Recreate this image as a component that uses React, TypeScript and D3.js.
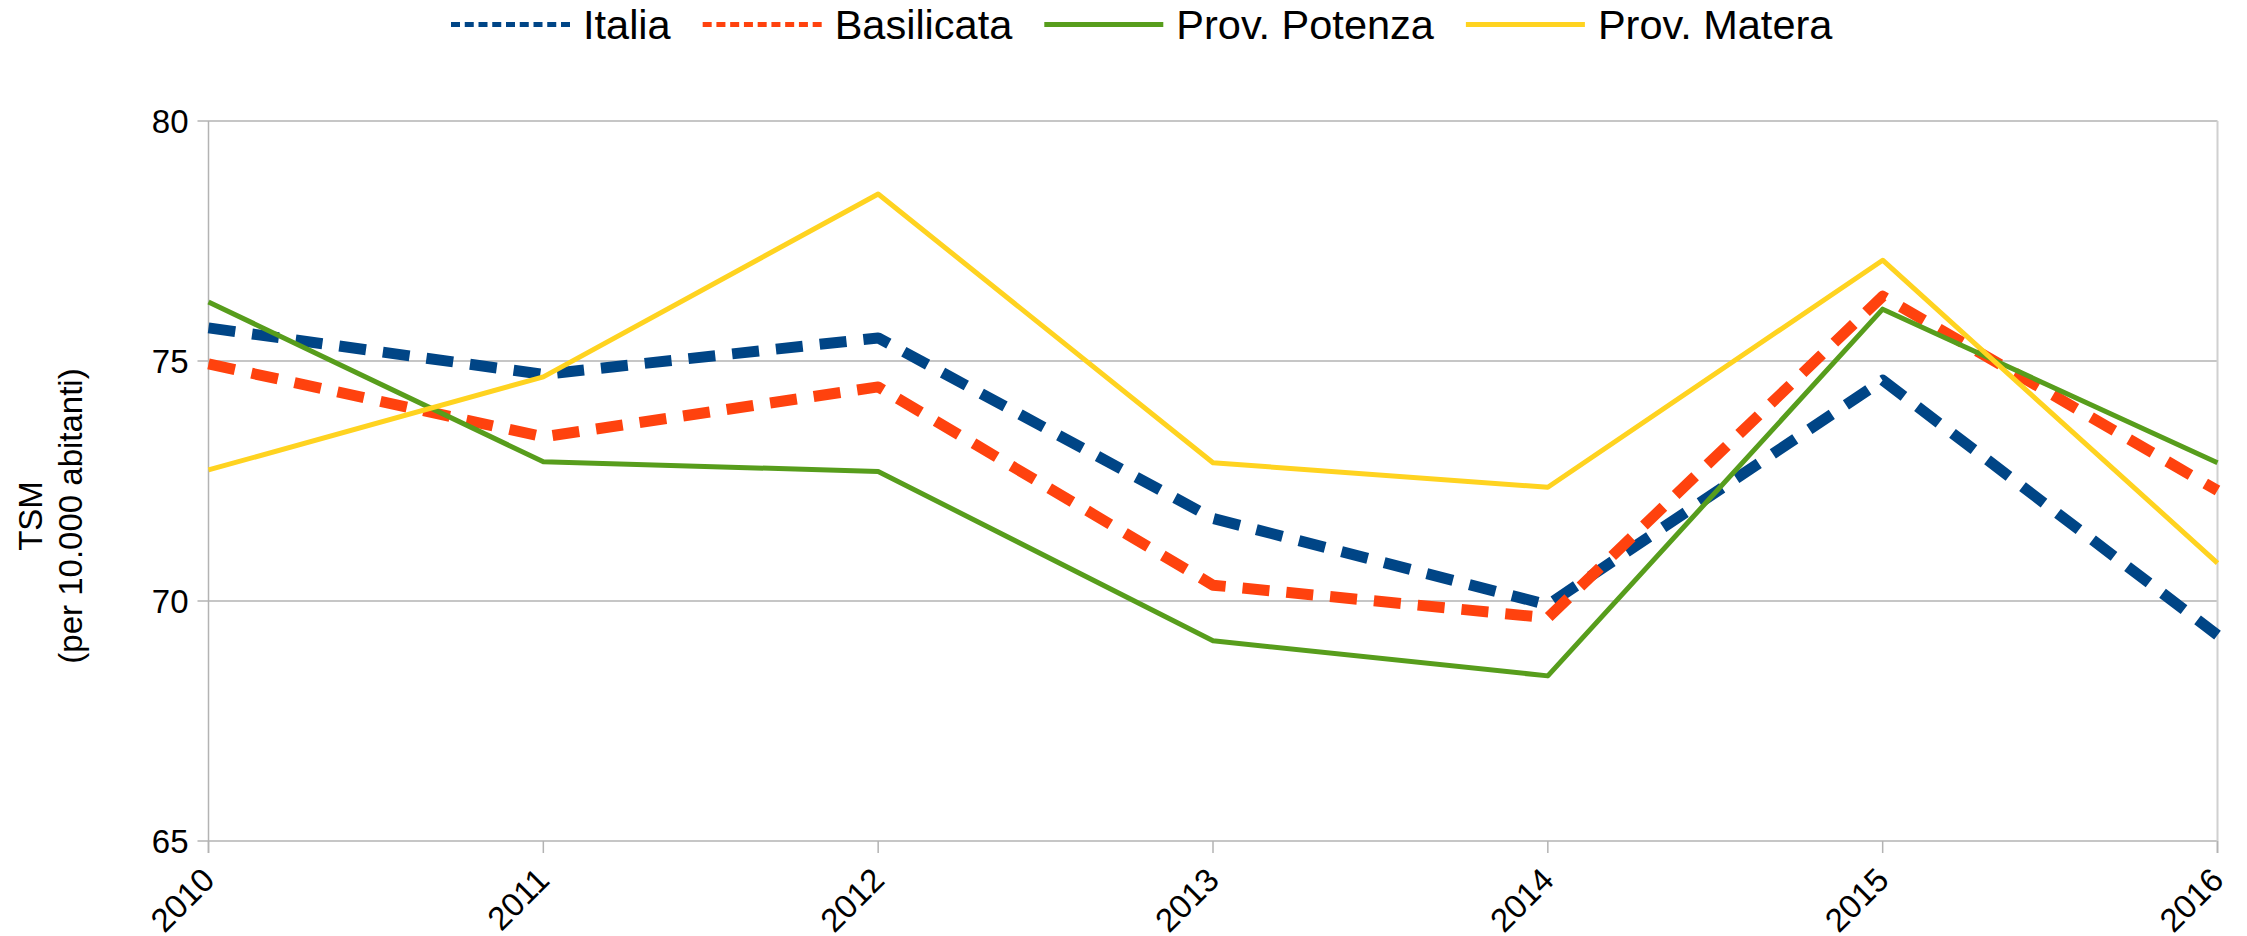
import React, { useEffect, useRef } from "react";
import * as d3 from "d3";

const years = [2010, 2011, 2012, 2013, 2014, 2015, 2016];
const italia = [75.69, 74.72, 75.48, 71.72, 69.92, 74.6, 69.29];
const basilicata = [74.94, 73.42, 74.46, 70.33, 69.65, 76.35, 72.3];
const potenza = [76.23, 72.9, 72.7, 69.17, 68.44, 76.08, 72.88];
const matera = [72.73, 74.67, 78.48, 72.88, 72.37, 77.1, 70.79];
const yTicks = [65, 70, 75, 80];
const seriesNames = ["Italia", "Basilicata", "Prov. Potenza", "Prov. Matera"];
const seriesColors = ["#004586", "#ff420e", "#579d1c", "#ffd320"];
const seriesDashed = [true, true, false, false];
const yTitle = ["TSM", "(per 10.000 abitanti)"];

const W = 2247;
const H = 936;
const FONT = "'Liberation Sans', Arial, sans-serif";

export default function App() {
  const ref = useRef<SVGSVGElement | null>(null);

  useEffect(() => {
    const svg = d3.select(ref.current);
    svg.selectAll("*").remove();

    const left = 208.5, right = 2217.5, top = 121, bottom = 841;
    const x = d3.scalePoint<number>().domain(years).range([left, right]);
    const y = d3.scaleLinear().domain([65, 80]).range([bottom, top]);
    const grid = "#b3b3b3";

    const g = svg.append("g");
    yTicks.forEach((t) => {
      g.append("line")
        .attr("x1", left - 11).attr("x2", right)
        .attr("y1", y(t)).attr("y2", y(t))
        .attr("stroke", grid).attr("stroke-width", 1.5);
      g.append("text")
        .attr("x", left - 20).attr("y", y(t))
        .attr("text-anchor", "end").attr("dominant-baseline", "central")
        .attr("font-family", FONT).attr("font-size", 33).attr("fill", "#000")
        .text(String(t));
    });
    g.append("line").attr("x1", left).attr("x2", left).attr("y1", top).attr("y2", bottom + 12)
      .attr("stroke", grid).attr("stroke-width", 1.5);
    g.append("line").attr("x1", right).attr("x2", right).attr("y1", top).attr("y2", bottom + 12)
      .attr("stroke", "#d0d0d0").attr("stroke-width", 2);
    years.forEach((yr) => {
      const xx = x(yr)!;
      g.append("line").attr("x1", xx).attr("x2", xx).attr("y1", bottom).attr("y2", bottom + 12)
        .attr("stroke", grid).attr("stroke-width", 1.5);
      g.append("text")
        .attr("transform", `translate(${xx + 8},${bottom + 41}) rotate(-45)`)
        .attr("text-anchor", "end")
        .attr("font-family", FONT).attr("font-size", 33).attr("fill", "#000")
        .text(String(yr));
    });

    const yt = svg.append("text")
      .attr("transform", `translate(42,516) rotate(-90)`)
      .attr("text-anchor", "middle")
      .attr("font-family", FONT).attr("font-size", 33).attr("fill", "#000");
    yTitle.forEach((s, i) => {
      yt.append("tspan").attr("x", 0).attr("dy", i === 0 ? 0 : 40).text(s);
    });

    const all = [italia, basilicata, potenza, matera];
    const line = d3.line<number>()
      .x((_, i) => x(years[i])!)
      .y((d) => y(d));
    all.forEach((vals, i) => {
      const p = svg.append("path")
        .attr("d", line(vals)!)
        .attr("fill", "none")
        .attr("stroke", seriesColors[i])
        .attr("stroke-linejoin", "round");
      if (seriesDashed[i]) {
        p.attr("stroke-width", 11).attr("stroke-dasharray", "27 17").attr("stroke-linecap", "butt");
      } else {
        p.attr("stroke-width", 5);
      }
    });

    let cx = 451;
    const ly = 24.5;
    seriesNames.forEach((name, i) => {
      const s = svg.append("line")
        .attr("x1", cx).attr("x2", cx + 119).attr("y1", ly).attr("y2", ly)
        .attr("stroke", seriesColors[i]).attr("stroke-width", 5);
      if (seriesDashed[i]) s.attr("stroke-dasharray", "9 4.75");
      const t = svg.append("text")
        .attr("x", cx + 132).attr("y", 39)
        .attr("font-family", FONT).attr("font-size", 41.5).attr("fill", "#000")
        .text(name);
      const w = (t.node() as SVGTextElement).getComputedTextLength();
      cx = cx + 132 + w + 32;
    });
  }, []);

  return (
    <svg
      ref={ref}
      width={W}
      height={H}
      style={{ position: "absolute", left: 0, top: 0, display: "block", background: "#fff" }}
    />
  );
}
